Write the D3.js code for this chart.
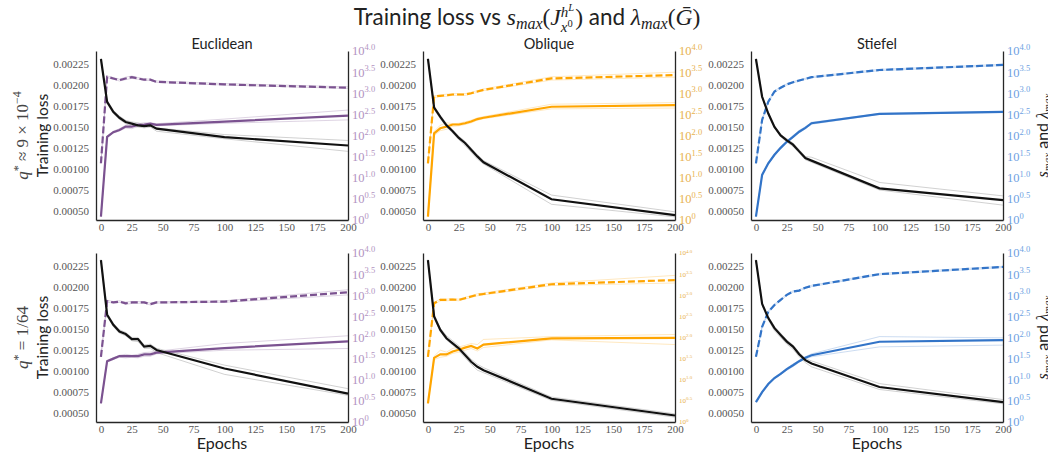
<!DOCTYPE html>
<html>
<head>
<meta charset="utf-8">
<script src="https://cdn.jsdelivr.net/npm/d3@7"></script>
<style>
  body { margin: 0; background: #fff; }
  svg { display: block; }
  text { white-space: pre; }
</style>
</head>
<body>
<div id="chart"></div>
<script>
// epochs at which the runs were logged
var epochs = [0, 5, 10, 15, 20, 25, 30, 35, 40, 45, 100, 200];

var manifolds = ["Euclidean", "Oblique", "Stiefel"];
var lineColors = ["#7b5290", "#ffa500", "#3274c8"];
var tickColors = ["#b293c2", "#e8b24f", "#6e9fe2"];

var lossTicks = [0.0005, 0.00075, 0.001, 0.00125, 0.0015, 0.00175, 0.002, 0.00225];
var epochTicks = [0, 25, 50, 75, 100, 125, 150, 175, 200];
var powerTicks = [0, 0.5, 1, 1.5, 2, 2.5, 3, 3.5, 4];

// row 1 : q* ~ 9e-4, mean curves
var lossEucA = [0.00231, 0.00180, 0.00168, 0.00161, 0.00156, 0.00154, 0.00152, 0.00151, 0.00152, 0.00148, 0.00138, 0.00128];
var lossOblA = [0.00231, 0.00173, 0.00162, 0.00152, 0.00145, 0.00137, 0.00131, 0.00123, 0.00115, 0.00108, 0.00064, 0.00045];
var lossStiA = [0.00231, 0.00186, 0.00166, 0.00150, 0.00140, 0.00134, 0.00129, 0.00121, 0.00113, 0.00110, 0.00077, 0.00063];
var sEucA = [1.2, 93, 120, 135, 162, 162, 178, 182, 190, 178, 214, 295];
var gEucA = [22, 2450, 2240, 2040, 2240, 2400, 2240, 2090, 2090, 1860, 1620, 1350];
var sOblA = [1.2, 112, 148, 162, 182, 182, 195, 214, 245, 263, 479, 525];
var gOblA = [22, 832, 871, 891, 933, 933, 933, 1000, 1100, 1200, 2240, 2690];
var sStiA = [1.2, 11.7, 22, 35, 51, 71, 93, 123, 151, 195, 324, 363];
var gStiA = [22, 234, 631, 1100, 1350, 1620, 1820, 2000, 2190, 2400, 3550, 4680];

// row 2 : q* = 1/64, mean curves
var lossEucB = [0.00232, 0.00167, 0.00155, 0.00147, 0.00144, 0.00138, 0.00138, 0.00129, 0.00130, 0.00125, 0.00103, 0.00073];
var lossOblB = [0.00232, 0.00165, 0.00149, 0.00139, 0.00133, 0.00127, 0.00119, 0.00111, 0.00105, 0.00101, 0.00067, 0.00047];
var lossStiB = [0.00232, 0.00180, 0.00163, 0.00151, 0.00143, 0.00135, 0.00129, 0.00120, 0.00113, 0.00109, 0.00081, 0.00063];
var sEucB = [2.75, 27.5, 31.6, 36.3, 36.3, 36.3, 36.3, 39.8, 39.8, 43.7, 56.2, 81.3];
var gEucB = [35, 724, 676, 708, 646, 676, 676, 676, 617, 676, 708, 1175];
var sOblB = [2.75, 33, 39.8, 39.8, 46.8, 51.3, 57.5, 63.1, 55, 67.6, 95.5, 97.7];
var gOblB = [35, 646, 776, 776, 794, 776, 851, 933, 1023, 1072, 1820, 2290];
var sStiB = [2.95, 5.1, 7.9, 11, 13.8, 17.8, 22, 27.5, 33, 38, 79.4, 87];
var gStiB = [35, 178, 407, 589, 776, 1023, 1230, 1290, 1510, 1660, 3160, 4680];

// individual runs (faint lines), two per curve
var runLossEucA = [[0.00232, 0.00182, 0.00170, 0.00163, 0.00158, 0.00156, 0.00155, 0.00153, 0.00153, 0.00149, 0.00141, 0.00134],
                   [0.00230, 0.00178, 0.00166, 0.00159, 0.00154, 0.00151, 0.00150, 0.00149, 0.00150, 0.00145, 0.00136, 0.00121]];
var runSEucA = [[1.2, 97, 126, 145, 175, 185, 190, 200, 200, 190, 245, 400],
                [1.2, 90, 114, 128, 150, 145, 165, 170, 180, 170, 195, 234]];
var runGEucA = [[22, 2550, 2350, 2150, 2400, 2550, 2350, 2200, 2150, 1950, 1700, 1420],
                [22, 2350, 2150, 1950, 2100, 2250, 2150, 2000, 2000, 1800, 1560, 1300]];
var runLossOblA = [[0.00232, 0.00175, 0.00164, 0.00154, 0.00147, 0.00139, 0.00133, 0.00125, 0.00117, 0.00110, 0.00069, 0.00049],
                   [0.00230, 0.00171, 0.00160, 0.00150, 0.00143, 0.00135, 0.00128, 0.00120, 0.00112, 0.00106, 0.00058, 0.00043]];
var runSOblA = [[1.2, 125, 175, 200, 190, 195, 210, 230, 260, 280, 550, 600],
                [1.2, 100, 130, 140, 165, 170, 182, 200, 230, 250, 427, 447]];
var runGOblA = [[22, 870, 910, 950, 980, 980, 980, 1050, 1150, 1260, 2450, 3150],
                [22, 800, 830, 850, 890, 890, 890, 960, 1050, 1150, 2050, 2400]];
var runLossStiA = [[0.00232, 0.00187, 0.00167, 0.00151, 0.00141, 0.00136, 0.00131, 0.00123, 0.00115, 0.00114, 0.00084, 0.00068],
                   [0.00230, 0.00185, 0.00165, 0.00149, 0.00139, 0.00132, 0.00127, 0.00119, 0.00111, 0.00108, 0.00075, 0.00057]];
var runSStiA = [[1.2, 12, 23, 37, 54, 75, 100, 132, 160, 205, 330, 370],
                [1.2, 11.3, 21, 33, 48, 68, 88, 116, 143, 185, 318, 350]];
var runGStiA = [[22, 245, 660, 1150, 1400, 1680, 1880, 2070, 2260, 2480, 3680, 4850],
                [22, 225, 600, 1050, 1300, 1560, 1760, 1930, 2120, 2320, 3420, 4520]];

var runLossEucB = [[0.00233, 0.00169, 0.00157, 0.00149, 0.00146, 0.00140, 0.00140, 0.00131, 0.00132, 0.00127, 0.00107, 0.00079],
                   [0.00231, 0.00165, 0.00153, 0.00145, 0.00142, 0.00136, 0.00135, 0.00127, 0.00127, 0.00122, 0.00096, 0.00071]];
var runSEucB = [[2.75, 29, 33, 38, 40, 38, 40, 44, 45, 47, 72, 110],
                [2.75, 26, 30, 34, 33, 34, 33, 36, 36, 41, 50, 55]];
var runGEucB = [[35, 760, 710, 740, 690, 710, 710, 700, 650, 700, 740, 1350],
                [35, 690, 650, 680, 610, 640, 645, 650, 590, 650, 680, 1020]];
var runLossOblB = [[0.00233, 0.00167, 0.00151, 0.00142, 0.00136, 0.00130, 0.00122, 0.00114, 0.00108, 0.00104, 0.00069, 0.00049],
                   [0.00231, 0.00163, 0.00147, 0.00137, 0.00131, 0.00124, 0.00116, 0.00108, 0.00101, 0.00098, 0.00065, 0.00045]];
var runSOblB = [[2.75, 36, 50, 45, 55, 60, 65, 72, 68, 90, 105, 118],
                [2.75, 30, 34, 36, 42, 45, 50, 55, 48, 58, 88, 68]];
var runGOblB = [[35, 680, 810, 810, 830, 810, 890, 980, 1080, 1130, 1950, 2950],
                [35, 610, 740, 740, 760, 740, 810, 890, 970, 1020, 1700, 1950]];
var runLossStiB = [[0.00233, 0.00181, 0.00165, 0.00153, 0.00145, 0.00137, 0.00131, 0.00122, 0.00115, 0.00112, 0.00085, 0.00066],
                   [0.00231, 0.00178, 0.00161, 0.00148, 0.00140, 0.00132, 0.00126, 0.00117, 0.00110, 0.00105, 0.00078, 0.00061]];
var runSStiB = [[2.95, 5.3, 8.2, 11.5, 14.5, 18.8, 23.5, 29, 35, 41, 105, 98],
                [2.95, 4.9, 7.6, 10.5, 13.2, 16.8, 20.5, 26, 31, 35, 60, 66]];
var runGStiB = [[35, 185, 425, 615, 810, 1060, 1270, 1340, 1560, 1720, 3280, 4850],
                [35, 171, 390, 565, 745, 985, 1190, 1240, 1460, 1600, 3040, 4520]];

var rows = [
    {q: "a", loss: [lossEucA, lossOblA, lossStiA], s: [sEucA, sOblA, sStiA], g: [gEucA, gOblA, gStiA],
     runLoss: [runLossEucA, runLossOblA, runLossStiA], runS: [runSEucA, runSOblA, runSStiA], runG: [runGEucA, runGOblA, runGStiA]},
    {q: "b", loss: [lossEucB, lossOblB, lossStiB], s: [sEucB, sOblB, sStiB], g: [gEucB, gOblB, gStiB],
     runLoss: [runLossEucB, runLossOblB, runLossStiB], runS: [runSEucB, runSOblB, runSStiB], runG: [runGEucB, runGOblB, runGStiB]}
];

var colLeft = [96, 423, 751], colW = 252;
var rowTop = [51, 253], rowH = 169;

var sans = "Lato, 'Open Sans', sans-serif";
var serif = "'Liberation Serif', 'DejaVu Serif', serif";

var svg = d3.select("#chart")
            .append("svg")
            .attr("width", 1048)
            .attr("height", 453)

rows.forEach(function(row, r)
{
    manifolds.forEach(function(name, c)
    {
        var x0 = colLeft[c], y0 = rowTop[r];
        var g = svg.append("g").attr("transform", "translate(" + x0 + "," + y0 + ")");

        var x = d3.scaleLinear().domain([-4, 200]).range([0, colW]);
        var yL = d3.scaleLinear().domain([0.000393, 0.002405]).range([rowH, 0]);
        var yR = d3.scaleLog().domain([1, 10000]).range([rowH, 0]);

        // left axis
        var ax = g.append("g").call(d3.axisLeft(yL).tickValues(lossTicks).tickFormat(d3.format(".5f")).tickSize(0).tickPadding(7));
        ax.select(".domain").attr("stroke", "#262626").attr("stroke-width", 1.3);
        ax.selectAll("text").attr("font-family", serif).attr("font-size", 11).attr("fill", "#555");

        // bottom axis
        var bx = g.append("g").attr("transform", "translate(0," + rowH + ")")
                  .call(d3.axisBottom(x).tickValues(epochTicks).tickSize(0).tickPadding(3));
        bx.select(".domain").attr("stroke", "#262626").attr("stroke-width", 1.3);
        bx.selectAll("text").attr("font-family", serif).attr("font-size", 11).attr("fill", "#555");

        // right axis (log scale)
        var rx = g.append("g").attr("transform", "translate(" + colW + ",0)")
                  .call(d3.axisRight(yR).tickValues(powerTicks.map(function(p) { return Math.pow(10, p); })).tickSize(0).tickFormat(""));
        rx.select(".domain").attr("stroke", "#262626").attr("stroke-width", 1.3);

        var small = (r == 1 && c == 1);
        var big = small ? 7 : 12.5, sup = small ? 5 : 8.5;
        powerTicks.forEach(function(p)
        {
            var t = g.append("text")
                     .attr("x", colW + 4)
                     .attr("y", yR(Math.pow(10, p)) + big * 0.35)
                     .attr("font-family", serif)
                     .attr("fill", tickColors[c]);
            t.append("tspan").attr("font-size", big).text("10");
            t.append("tspan").attr("font-size", sup).attr("dy", -big * 0.42)
             .text(p == 0 ? "0" : p.toFixed(1));
        });

        // lines
        var lineL = d3.line().x(function(d, i) { return x(epochs[i]); }).y(function(d) { return yL(d); });
        var lineR = d3.line().x(function(d, i) { return x(epochs[i]); }).y(function(d) { return yR(d); });

        // faint individual runs first
        row.runG[c].forEach(function(run)
        {
            g.append("path").datum(run).attr("d", lineR)
             .attr("fill", "none").attr("stroke", lineColors[c]).attr("stroke-opacity", 0.25).attr("stroke-width", 1);
        });
        row.runS[c].forEach(function(run)
        {
            g.append("path").datum(run).attr("d", lineR)
             .attr("fill", "none").attr("stroke", lineColors[c]).attr("stroke-opacity", 0.25).attr("stroke-width", 1);
        });
        row.runLoss[c].forEach(function(run)
        {
            g.append("path").datum(run).attr("d", lineL)
             .attr("fill", "none").attr("stroke", "#999").attr("stroke-opacity", 0.45).attr("stroke-width", 1);
        });

        g.append("path").datum(row.g[c]).attr("d", lineR)
         .attr("fill", "none").attr("stroke", lineColors[c]).attr("stroke-width", 2.2)
         .attr("stroke-dasharray", "7,3");
        g.append("path").datum(row.s[c]).attr("d", lineR)
         .attr("fill", "none").attr("stroke", lineColors[c]).attr("stroke-width", 2.2);
        g.append("path").datum(row.loss[c]).attr("d", lineL)
         .attr("fill", "none").attr("stroke", "#111").attr("stroke-width", 2.2);

        if (r == 0)
        {
            g.append("text").attr("x", colW / 2).attr("y", -2)
             .attr("text-anchor", "middle").attr("font-family", sans).attr("font-size", 14.5)
             .attr("fill", "#222").text(name);
        }
        else
        {
            g.append("text").attr("x", colW / 2).attr("y", rowH + 27)
             .attr("text-anchor", "middle").attr("font-family", sans).attr("font-size", 16)
             .attr("fill", "#222").text("Epochs");
        }

        if (c == 0)
        {
            g.append("text").attr("transform", "translate(-48," + rowH / 2 + ") rotate(-90)")
             .attr("text-anchor", "middle").attr("font-family", sans).attr("font-size", 15.5)
             .attr("fill", "#222").text("Training loss");

            var q = g.append("text").attr("transform", "translate(-68," + rowH / 2 + ") rotate(-90)")
                     .attr("text-anchor", "middle").attr("font-family", serif).attr("font-size", 17)
                     .attr("fill", "#444");
            q.append("tspan").attr("font-style", "italic").text("q");
            q.append("tspan").attr("font-size", 12).attr("dy", -6).text("*");
            if (row.q == "a")
            {
                q.append("tspan").attr("dy", 6).text(" \u2248 9 \u00d7 10");
                q.append("tspan").attr("font-size", 12).attr("dy", -7).text("\u22124");
            }
            else
            {
                q.append("tspan").attr("dy", 6).text(" = 1/64");
            }
        }

        if (c == 2)
        {
            var lab = g.append("text").attr("transform", "translate(" + (colW + 45) + "," + rowH / 2 + ") rotate(-90)")
                       .attr("text-anchor", "middle").attr("font-size", 16).attr("fill", "#222");
            lab.append("tspan").attr("font-family", serif).attr("font-style", "italic").text("s");
            lab.append("tspan").attr("font-family", serif).attr("font-style", "italic").attr("font-size", 11).attr("dy", 3).text("max");
            lab.append("tspan").attr("font-family", sans).attr("dy", -3).text(" and ");
            lab.append("tspan").attr("font-family", serif).attr("font-style", "italic").text("\u03bb");
            lab.append("tspan").attr("font-family", serif).attr("font-style", "italic").attr("font-size", 11).attr("dy", 3).text("max");
        }
    });
});

// title built piece by piece so the math parts can stack
var title = svg.append("g");
var cx = 0;
function piece(txt, fam, size, dy, italic)
{
    var t = title.append("text").attr("x", cx).attr("y", dy)
                 .attr("font-family", fam).attr("font-size", size).attr("fill", "#222")
                 .attr("font-style", italic ? "italic" : "normal").text(txt);
    cx += t.node().getComputedTextLength();
}
piece("Training loss vs ", sans, 22.5, 0, false);
piece("s", serif, 23.5, 0, true);
piece("max", serif, 16, 4, true);
piece("(", serif, 23.5, 0, false);
piece("J", serif, 23.5, 0, true);
var stackX = cx;
piece("h", serif, 15, -8, true);
piece("L", serif, 10.5, -14, true);
var topW = cx - stackX;
cx = stackX;
piece("x", serif, 15, 7, true);
piece("0", serif, 10.5, 2, false);
cx = stackX + Math.max(topW, cx - stackX) + 1;
piece(")", serif, 23.5, 0, false);
piece(" and ", sans, 22.5, 0, false);
piece("\u03bb", serif, 23.5, 0, true);
piece("max", serif, 16, 4, true);
piece("(", serif, 23.5, 0, false);
piece("\u1e20", serif, 23.5, 0, true);
piece(")", serif, 23.5, 0, false);
title.attr("transform", "translate(" + (527 - cx / 2) + ",25)");
</script>
</body>
</html>
